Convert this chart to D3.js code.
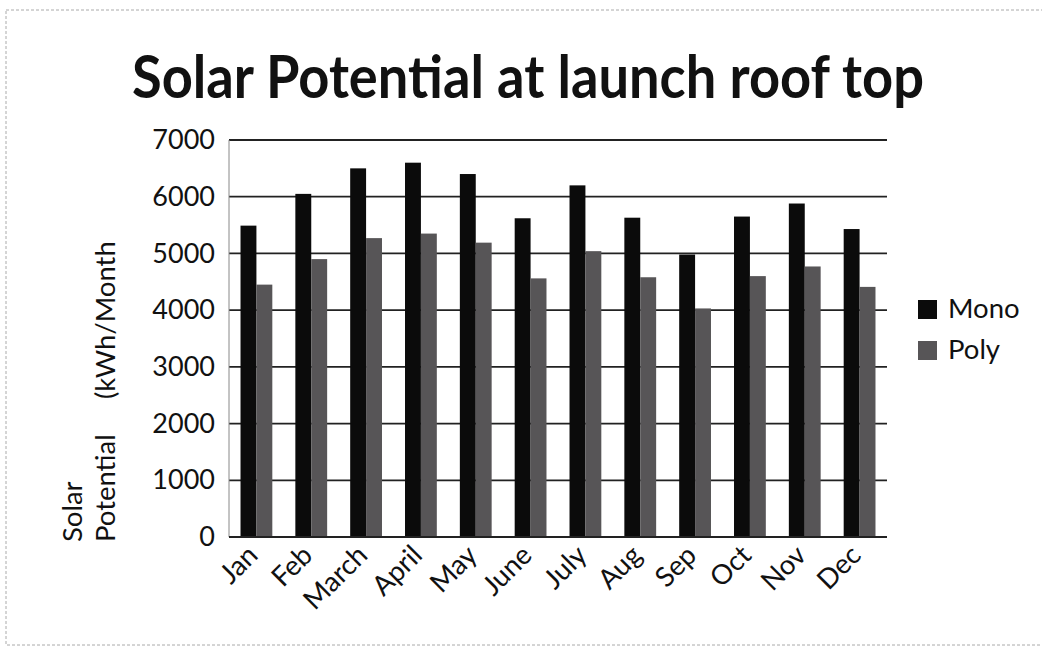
<!DOCTYPE html>
<html>
<head>
<meta charset="utf-8">
<script src="https://cdn.jsdelivr.net/npm/d3@7"></script>
<style>
  html, body { margin: 0; padding: 0; background: #fff; }
  svg { display: block; }
  text { font-family: Lato, "Open Sans", sans-serif; fill: #111; }
</style>
</head>
<body>
<script>
// Monthly rooftop solar potential, kWh per month
const months = ["Jan", "Feb", "March", "April", "May", "June", "July", "Aug", "Sep", "Oct", "Nov", "Dec"];
const series = ["Mono", "Poly"];
const mono = [5490, 6050, 6500, 6600, 6400, 5620, 6200, 5630, 4980, 5650, 5880, 5430];
const poly = [4450, 4900, 5270, 5350, 5190, 4560, 5040, 4580, 4030, 4600, 4770, 4410];
const yTicks = [0, 1000, 2000, 3000, 4000, 5000, 6000, 7000];
const colors = { Mono: "#0b0b0b", Poly: "#575557" };

const W = 1042, H = 649;
const svg = d3.select("body").append("svg").attr("width", W).attr("height", H);

// page frame
svg.append("rect")
  .attr("x", 6).attr("y", 10).attr("width", W + 10).attr("height", 635)
  .attr("fill", "none").attr("stroke", "#aaa").attr("stroke-width", 1)
  .attr("stroke-dasharray", "3,2");

const plot = { left: 229, right: 887, top: 140, bottom: 537 };

const x = d3.scaleBand().domain(months)
  .range([plot.left, plot.right]).paddingInner(0.42).paddingOuter(0.21);
const xs = d3.scaleBand().domain(series).range([0, x.bandwidth()]);
const y = d3.scaleLinear().domain([0, 7000]).range([plot.bottom, plot.top]);

// title
svg.append("text")
  .attr("x", 528).attr("y", 98)
  .attr("text-anchor", "middle")
  .attr("font-size", 59).attr("font-weight", 700)
  .attr("textLength", 792).attr("lengthAdjust", "spacingAndGlyphs")
  .text("Solar Potential at launch roof top");

// gridlines
const grid = svg.append("g");
grid.selectAll("line").data(yTicks.filter(d => d > 0)).join("line")
  .attr("x1", plot.left).attr("x2", plot.right)
  .attr("y1", d => y(d)).attr("y2", d => y(d))
  .attr("stroke", "#222").attr("stroke-width", 1.8);

// left axis line
svg.append("line")
  .attr("x1", plot.left).attr("x2", plot.left)
  .attr("y1", plot.top).attr("y2", plot.bottom)
  .attr("stroke", "#888").attr("stroke-width", 1);

// y tick labels
const yAxis = svg.append("g")
  .attr("transform", `translate(${plot.left},0)`)
  .call(d3.axisLeft(y).tickValues(yTicks).tickSize(0).tickPadding(14).tickFormat(d3.format("d")));
yAxis.select(".domain").remove();
yAxis.selectAll("text")
  .attr("font-size", 27).attr("font-family", "Lato, sans-serif").attr("fill", "#111");

// bars
const groups = svg.append("g").selectAll("g")
  .data(months.map((m, i) => ({ month: m, values: [{ s: "Mono", v: mono[i] }, { s: "Poly", v: poly[i] }] })))
  .join("g")
  .attr("transform", d => `translate(${x(d.month)},0)`);

groups.selectAll("rect").data(d => d.values).join("rect")
  .attr("x", d => xs(d.s))
  .attr("width", xs.bandwidth())
  .attr("y", d => y(d.v))
  .attr("height", d => y(0) - y(d.v))
  .attr("fill", d => colors[d.s]);

// x axis baseline
svg.append("line")
  .attr("x1", plot.left).attr("x2", plot.right)
  .attr("y1", plot.bottom).attr("y2", plot.bottom)
  .attr("stroke", "#222").attr("stroke-width", 2);

// x tick labels
const xAxis = svg.append("g")
  .attr("transform", `translate(0,${plot.bottom})`)
  .call(d3.axisBottom(x).tickSize(0).tickPadding(0));
xAxis.select(".domain").remove();
xAxis.selectAll("text")
  .attr("font-size", 27.5).attr("font-family", "Lato, sans-serif").attr("fill", "#111")
  .attr("text-anchor", "end")
  .attr("dy", 0)
  .attr("transform", "translate(3,20) rotate(-45)");

// y axis title, two lines rotated
const yTitle = svg.append("text")
  .attr("transform", "translate(82,542) rotate(-90)")
  .attr("font-size", 27.5);
yTitle.append("tspan").attr("x", 0).attr("y", 0).text("Solar");
yTitle.append("tspan").attr("x", 0).attr("y", 33).attr("xml:space", "preserve")
  .text("Potential     (kWh/Month");

// legend
const legend = svg.append("g").selectAll("g").data(series).join("g")
  .attr("transform", (d, i) => `translate(918,${300 + i * 41})`);
legend.append("rect").attr("width", 19).attr("height", 19).attr("fill", d => colors[d]);
legend.append("text").attr("x", 30).attr("y", 17.5).attr("font-size", 27.5).text(d => d);
</script>
</body>
</html>
